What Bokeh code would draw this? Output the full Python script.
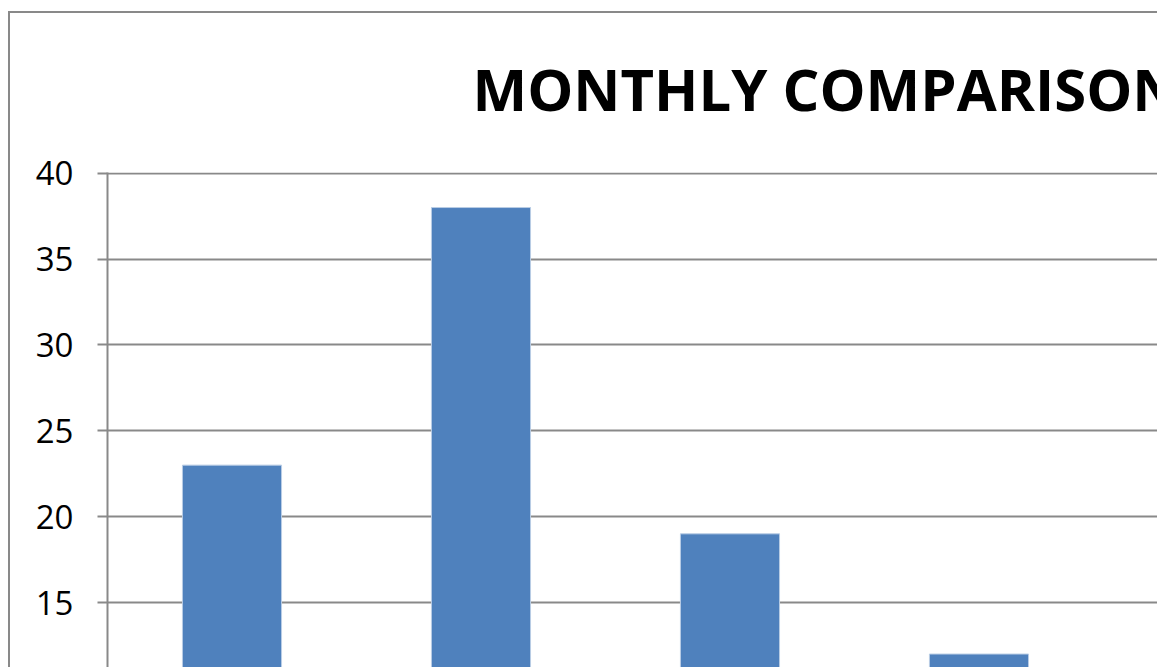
from bokeh.plotting import figure
from bokeh.models import ColumnDataSource, Range1d, FixedTicker, Title
from bokeh.embed import file_html
from bokeh.resources import INLINE

# Data
title_text = "MONTHLY COMPARISON"
categories = ["Month 1", "Month 2", "Month 3", "Month 4"]
values = [23, 38, 19, 12]
y_ticks = [10, 15, 20, 25, 30, 35, 40]

positions = [i + 0.5 for i in range(len(categories))]
source = ColumnDataSource(dict(cat=categories, x=positions, v=values))

GRAY = "#898989"

p = figure(
    width=1149, height=656,
    output_backend="svg", toolbar_location=None,
    x_range=Range1d(0, 4.225), y_range=Range1d(11.10, 40.04),
    x_axis_location=None,
    min_border_left=97, min_border_top=159, min_border_bottom=0, min_border_right=0,
)
p.styles = {"border-left": f"2px solid {GRAY}", "border-top": f"2px solid {GRAY}",
            "margin-top": "11px", "margin-left": "8px"}

p.vbar(x="x", top="v", bottom=0, width=0.398, source=source,
       fill_color="#4f81bd", line_color="#b9cde5", line_width=1)

p.outline_line_color = None
p.xgrid.visible = False
p.ygrid.grid_line_color = GRAY
p.ygrid.grid_line_width = 2
p.ygrid.ticker = FixedTicker(ticks=y_ticks)

ax = p.yaxis[0]
ax.ticker = FixedTicker(ticks=y_ticks)
ax.axis_line_color = GRAY
ax.axis_line_width = 2
ax.major_tick_line_color = GRAY
ax.major_tick_line_width = 2
ax.major_tick_in = 0
ax.major_tick_out = 10
ax.minor_tick_line_color = None
ax.major_label_standoff = 24
ax.major_label_text_font = "Open Sans"
ax.major_label_text_font_size = "33px"
ax.major_label_text_color = "black"

# white spacer between frame and title (added first -> nearest the frame)
spacer = Title(text=".", text_font="Open Sans", text_font_size="10px",
               text_color="white", standoff=35)
p.add_layout(spacer, "above")

main_title = Title(text=title_text, text_font="Open Sans", text_font_style="bold",
                   text_font_size="58px", text_color="black", align="left",
                   offset=365, standoff=0)
p.add_layout(main_title, "above")

open("out.html", "w").write(file_html(p, INLINE))
